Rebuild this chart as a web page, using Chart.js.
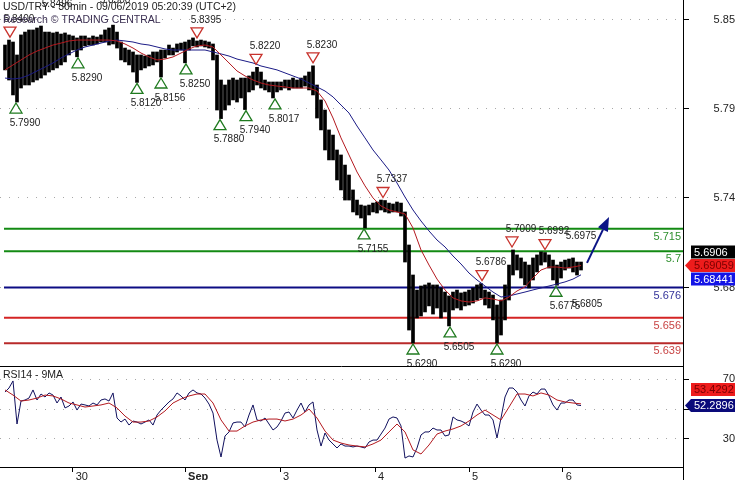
<!DOCTYPE html>
<html>
<head>
<meta charset="utf-8">
<script src="https://cdn.jsdelivr.net/npm/chart.js@4.4.0/dist/chart.umd.min.js"></script>
<style>
html, body { margin: 0; padding: 0; background: #fff; }
#wrap { position: relative; width: 735px; height: 480px; overflow: hidden; }
#priceChart { position: absolute; left: 0; top: 0; }
#rsiChart { position: absolute; left: 0; top: 366px; }
</style>
</head>
<body>
<div id="wrap">
  <canvas id="priceChart" width="735" height="366"></canvas>
  <canvas id="rsiChart" width="735" height="114"></canvas>
</div>
<script>
// 30min bars, one entry per 2 bars of the original
const barHighs = [
  5.8368, 5.8401, 5.8388, 5.8302, 5.8435, 5.8454, 5.8468, 5.8468, 5.8481, 5.8494,
  5.8454, 5.8454, 5.8448, 5.8454, 5.8441, 5.8448, 5.8435, 5.8428, 5.8415, 5.8428,
  5.8428, 5.8415, 5.8428, 5.8421, 5.8435, 5.8468, 5.8481, 5.8500, 5.8454, 5.8388,
  5.8348, 5.8335, 5.8322, 5.8302, 5.8302, 5.8295, 5.8302, 5.8322, 5.8322, 5.8335,
  5.8335, 5.8368, 5.8348, 5.8375, 5.8381, 5.8388, 5.8401, 5.8415, 5.8395, 5.8401,
  5.8395, 5.8388, 5.8375, 5.8302, 5.8136, 5.8103, 5.8136, 5.8149, 5.8136, 5.8149,
  5.8149, 5.8163, 5.8189, 5.8220, 5.8189, 5.8136, 5.8123, 5.8123, 5.8123, 5.8123,
  5.8136, 5.8136, 5.8149, 5.8136, 5.8149, 5.8163, 5.8189, 5.8230, 5.8103, 5.8004,
  5.7937, 5.7805, 5.7771, 5.7672, 5.7639, 5.7572, 5.7506, 5.7407, 5.7340, 5.7307,
  5.7301, 5.7307, 5.7320, 5.7327, 5.7340, 5.7337, 5.7320, 5.7314, 5.7327, 5.7320,
  5.7261, 5.7042, 5.6843, 5.6743, 5.6770, 5.6777, 5.6790, 5.6777, 5.6777, 5.6757,
  5.6730, 5.6704, 5.6730, 5.6743, 5.6724, 5.6730, 5.6743, 5.6757, 5.6777, 5.6786,
  5.6743, 5.6730, 5.6710, 5.6644, 5.6677, 5.6777, 5.6909, 5.7009, 5.6976, 5.6956,
  5.6929, 5.6909, 5.6956, 5.6976, 5.6996, 5.6992, 5.6976, 5.6942, 5.6909, 5.6929,
  5.6942, 5.6949, 5.6956, 5.6929, 5.6929
];
const barLows = [
  5.8203, 5.8136, 5.8037, 5.7990, 5.8083, 5.8103, 5.8103, 5.8123, 5.8136, 5.8149,
  5.8169, 5.8189, 5.8203, 5.8216, 5.8236, 5.8256, 5.8302, 5.8335, 5.8290, 5.8335,
  5.8362, 5.8368, 5.8368, 5.8375, 5.8388, 5.8388, 5.8368, 5.8375, 5.8348, 5.8269,
  5.8256, 5.8236, 5.8189, 5.8120, 5.8203, 5.8216, 5.8229, 5.8236, 5.8256, 5.8156,
  5.8282, 5.8302, 5.8302, 5.8322, 5.8335, 5.8250, 5.8335, 5.8362, 5.8355, 5.8362,
  5.8355, 5.8348, 5.8269, 5.7937, 5.7880, 5.7937, 5.7970, 5.8004, 5.7990, 5.8017,
  5.7940, 5.8057, 5.8070, 5.8103, 5.8083, 5.8070, 5.8057, 5.8017, 5.8057, 5.8070,
  5.8083, 5.8070, 5.8083, 5.8083, 5.8083, 5.8096, 5.8070, 5.8037, 5.7884, 5.7805,
  5.7672, 5.7606, 5.7606, 5.7473, 5.7407, 5.7340, 5.7340, 5.7261, 5.7241, 5.7221,
  5.7155, 5.7241, 5.7261, 5.7254, 5.7274, 5.7261, 5.7254, 5.7261, 5.7261, 5.7234,
  5.6929, 5.6478, 5.6392, 5.6558, 5.6571, 5.6598, 5.6638, 5.6584, 5.6624, 5.6558,
  5.6598, 5.6505, 5.6611, 5.6624, 5.6611, 5.6638, 5.6644, 5.6657, 5.6677, 5.6690,
  5.6644, 5.6624, 5.6545, 5.6392, 5.6445, 5.6545, 5.6677, 5.6843, 5.6876, 5.6823,
  5.6777, 5.6757, 5.6810, 5.6863, 5.6909, 5.6929, 5.6889, 5.6810, 5.6775, 5.6823,
  5.6876, 5.6889, 5.6863, 5.6843, 5.6876
];
const lastClose = 5.6906;

// moving averages, one point every maStep entries
const maStep = 2;
const redMA = [
  5.8203, 5.8236, 5.8269, 5.8302, 5.8328, 5.8348, 5.8368, 5.8381, 5.8395, 5.8401,
  5.8401, 5.8401, 5.8401, 5.8401, 5.8395, 5.8375, 5.8348, 5.8315, 5.8289, 5.8269,
  5.8275, 5.8289, 5.8315, 5.8342, 5.8362, 5.8368, 5.8355, 5.8302, 5.8249, 5.8196,
  5.8163, 5.8136, 5.8116, 5.8103, 5.8096, 5.8090, 5.8083, 5.8083, 5.8083, 5.8063,
  5.7997, 5.7884, 5.7752, 5.7639, 5.7526, 5.7434, 5.7354, 5.7301, 5.7274, 5.7261,
  5.7248, 5.7155, 5.7009, 5.6909, 5.6816, 5.6744, 5.6691, 5.6671, 5.6664, 5.6671,
  5.6691, 5.6684, 5.6671, 5.6697, 5.6737, 5.6764, 5.6823, 5.6876, 5.6896, 5.6896,
  5.6889, 5.6896, 5.69059
];
const blueMA = [
  5.8149, 5.8143, 5.8149, 5.8169, 5.8196, 5.8222, 5.8249, 5.8282, 5.8309, 5.8335,
  5.8355, 5.8368, 5.8381, 5.8395, 5.8401, 5.8395, 5.8388, 5.8375, 5.8368, 5.8355,
  5.8342, 5.8335, 5.8335, 5.8335, 5.8335, 5.8335, 5.8322, 5.8309, 5.8295, 5.8275,
  5.8262, 5.8249, 5.8229, 5.8216, 5.8203, 5.8183, 5.8163, 5.8143, 5.8116, 5.8090,
  5.8063, 5.8024, 5.7970, 5.7917, 5.7831, 5.7752, 5.7672, 5.7606, 5.7539, 5.7453,
  5.7360, 5.7274, 5.7201, 5.7135, 5.7075, 5.7029, 5.6969, 5.6916, 5.6856, 5.6810,
  5.6770, 5.6730, 5.6697, 5.6704, 5.6717, 5.6730, 5.6744, 5.6757, 5.6770, 5.6783,
  5.6797, 5.6816, 5.68441
];

const rsiValues = [
  61.3, 64, 68.7, 40, 55.3, 56, 57.3, 62.7, 56, 60,
  58, 60.7, 59.3, 54, 58, 50.7, 52, 54.7, 49.3, 53.3,
  52.7, 52, 54, 52.7, 56, 56.7, 55.3, 60.7, 44, 41.3,
  43.3, 39.3, 42, 41.3, 40, 41.3, 42.7, 39.3, 46, 49.3,
  52, 54.7, 56.7, 60.7, 58.7, 56, 60.7, 62.7, 60.7, 60,
  57.3, 53.3, 47.3, 29.3, 18, 32, 34.7, 40.7, 41.3, 41.3,
  38, 46, 52.7, 42.7, 42, 44, 40, 36, 38, 42,
  47.3, 48, 44, 49.3, 54, 48, 52.7, 54.7, 36, 25.3,
  34, 29.3, 26.7, 24, 26.7, 25.3, 25.3, 24.7, 25.3, 24.7,
  24, 28, 29.3, 29.3, 33.3, 37.3, 43.3, 44.7, 44, 38.7,
  17.3, 18.7, 18, 24, 32.7, 34.7, 34.7, 37.3, 36, 36,
  32, 32.7, 44.7, 42.7, 42, 40.7, 38.7, 48, 53.3, 49.3,
  46, 46, 42.7, 30.7, 44, 58, 64, 64, 61.3, 56,
  52, 58.7, 61.3, 60, 63.3, 63.3, 58.7, 52.7, 49.3, 54,
  54, 56, 56, 52.7, 52.2896
];
const rsiMA = [
  62.7, 59.3, 55.3, 56, 57.3, 59.3, 58.7, 56.7, 54, 52.7,
  51.3, 52, 52.7, 54, 50.7, 45.3, 41.3, 41.3, 42, 44.7,
  48.7, 54, 56.7, 58.7, 60, 60, 54, 42.7, 35.3, 35.3,
  38.7, 41.3, 42.7, 43.3, 43.3, 42, 43.3, 46, 50, 44,
  35.3, 29.3, 27.3, 26, 25.3, 24.7, 26.7, 29.3, 34.7, 40,
  34.7, 22.7, 20, 26, 33.3, 35.3, 36.7, 38.7, 42, 46,
  49.3, 46, 42.7, 51.3, 60, 60, 58.7, 60.7, 59.3, 56,
  54.7, 54, 53.4292
];

// support / resistance levels
const levelValues = [5.715, 5.7, 5.676, 5.656, 5.639];
const levelLabels = ['5.715', '5.7', '5.676', '5.656', '5.639'];
const levelColors = ['#138a13', '#138a13', '#0c0c84', '#d42424', '#b82a2a'];
const levelTextColors = ['#2e8f2e', '#2e8f2e', '#34349a', '#c84444', '#c84444'];

// pivot markers: [position, anchor price, label, kind]  H/L = with triangle, h/l = label only
const markers = [
  [1.25, 5.8400, '5.8400', 'H'], [10.75, 5.8496, '5.8496', 'h'], [25.25, 5.8525, '5.8500', 'h'],
  [48, 5.8395, '5.8395', 'H'], [62.75, 5.8220, '5.8220', 'H'], [77, 5.8230, '5.8230', 'H'],
  [94.5, 5.7337, '5.7337', 'H'], [119.25, 5.6786, '5.6786', 'H'], [126.75, 5.7009, '5.7009', 'H'],
  [135, 5.6992, '5.6992', 'H'], [141.75, 5.6962, '5.6975', 'h'],
  [2.75, 5.7990, '5.7990', 'L'], [18.25, 5.8290, '5.8290', 'L'], [33, 5.8120, '5.8120', 'L'],
  [39, 5.8156, '5.8156', 'L'], [45.25, 5.8250, '5.8250', 'L'], [53.75, 5.7880, '5.7880', 'L'],
  [60.25, 5.7940, '5.7940', 'L'], [67.5, 5.8017, '5.8017', 'L'], [89.75, 5.7155, '5.7155', 'L'],
  [102, 5.6392, '5.6290', 'L'], [111.25, 5.6505, '5.6505', 'L'], [123, 5.6392, '5.6290', 'L'],
  [137.75, 5.6775, '5.6775', 'L'], [143.25, 5.6790, '5.6805', 'l']
];

// projected move
const arrowX = [145.5, 151];
const arrowY = [5.6923, 5.7228];

const priceTicks = [5.6757, 5.7354, 5.7944, 5.8534];
const rsiTicks = [30, 50, 70];
const dayTickPos = [16.9, 45, 68.75, 92.5, 116, 139.4];
const dayTickLabels = ['30', 'Sep', '3', '4', '5', '6'];

const xMin = -1.25, xMax = 169.5, levelStart = -0.25;
const priceMin = 5.62395, priceMax = 5.86666;
const rsiMin = 11.333, rsiMax = 78.667;
const FONT = '"Liberation Sans", Arial, sans-serif';

function noPadding(s) {
    s.paddingTop = 0;
    s.paddingBottom = 0;
    s.paddingLeft = 0;
    s.paddingRight = 0;
}

function tag(ctx, left, yc, bg, fg, text, arrow) {
    ctx.fillStyle = bg;
    ctx.beginPath();
    if (arrow) {
        ctx.moveTo(left - 6, yc);
        ctx.lineTo(left, yc - 6.5);
    } else {
        ctx.moveTo(left, yc - 6.5);
    }
    ctx.lineTo(left + 46, yc - 6.5);
    ctx.lineTo(left + 46, yc + 6.5);
    ctx.lineTo(left, yc + 6.5);
    ctx.closePath();
    ctx.fill();
    ctx.fillStyle = fg;
    ctx.textAlign = 'left';
    ctx.fillText(text, left + 3, yc + 0.5);
}

const priceOverlay = {
    id: 'priceOverlay',
    afterDatasetsDraw(chart) {
        const {ctx, chartArea: a, scales: {x, y}} = chart;
        ctx.save();
        ctx.font = '11px ' + FONT;
        ctx.textBaseline = 'middle';

        ctx.textAlign = 'right';
        levelValues.forEach((v, i) => {
            ctx.fillStyle = levelTextColors[i];
            ctx.fillText(levelLabels[i], a.right - 2, y.getPixelForValue(v) + 8);
        });

        ctx.font = '10px ' + FONT;
        markers.forEach(([pos, price, text, kind]) => {
            const px = x.getPixelForValue(pos);
            const py = y.getPixelForValue(price);
            const high = kind === 'H' || kind === 'h';
            if (kind === 'H' || kind === 'L') {
                const ty = high ? py - 8 : py + 6;
                ctx.beginPath();
                if (high) {
                    ctx.moveTo(px, ty + 5); ctx.lineTo(px + 6, ty - 5); ctx.lineTo(px - 6, ty - 5);
                } else {
                    ctx.moveTo(px, ty - 5); ctx.lineTo(px + 6, ty + 5); ctx.lineTo(px - 6, ty + 5);
                }
                ctx.closePath();
                ctx.lineWidth = 1.3;
                ctx.strokeStyle = high ? '#c8322c' : '#1f7a1f';
                ctx.stroke();
            }
            ctx.textAlign = 'center';
            ctx.fillStyle = '#222';
            ctx.fillText(text, px + 9, high ? py - 21 : py + 21);
        });

        // arrow
        const x0 = x.getPixelForValue(arrowX[0]), y0 = y.getPixelForValue(arrowY[0]);
        const x1 = x.getPixelForValue(arrowX[1]), y1 = y.getPixelForValue(arrowY[1]);
        const ang = Math.atan2(y1 - y0, x1 - x0);
        const hl = 14, hw = 5.5;
        const bx = x1 - hl * Math.cos(ang), by = y1 - hl * Math.sin(ang);
        ctx.strokeStyle = ctx.fillStyle = '#0b1486';
        ctx.lineWidth = 2;
        ctx.beginPath(); ctx.moveTo(x0, y0); ctx.lineTo(bx, by); ctx.stroke();
        ctx.beginPath();
        ctx.moveTo(x1, y1);
        ctx.lineTo(bx + hw * Math.sin(ang), by - hw * Math.cos(ang));
        ctx.lineTo(bx - hw * Math.sin(ang), by + hw * Math.cos(ang));
        ctx.closePath(); ctx.fill();

        // title
        ctx.font = '10.5px ' + FONT;
        ctx.textAlign = 'left';
        ctx.fillStyle = '#222';
        ctx.fillText('USD/TRY - 30min - 09/06/2019 05:20:39 (UTC+2)', 3, 7);
        ctx.fillStyle = '#3b2f52';
        ctx.fillText('Research \u00a9 TRADING CENTRAL', 3, 20);
        ctx.restore();
    },
    afterDraw(chart) {
        const {ctx, chartArea: a, scales: {y}} = chart;
        ctx.save();
        ctx.font = '11px ' + FONT;
        ctx.textBaseline = 'middle';
        const yr = y.getPixelForValue(redMA[redMA.length - 1]);
        tag(ctx, a.right + 8, yr - 13.5, '#000', '#fff', String(lastClose), false);
        tag(ctx, a.right + 8, yr + 13.5, '#1414e6', '#fff', String(blueMA[blueMA.length - 1]), false);
        tag(ctx, a.right + 8, yr, '#ee1c1c', '#7a0000', String(redMA[redMA.length - 1]), true);
        ctx.restore();
    }
};

const rsiOverlay = {
    id: 'rsiOverlay',
    afterDraw(chart) {
        const {ctx, chartArea: a, scales: {y}} = chart;
        ctx.save();
        ctx.strokeStyle = '#000';
        ctx.lineWidth = 1;
        ctx.beginPath();
        ctx.moveTo(0, a.top + 0.5); ctx.lineTo(a.right, a.top + 0.5);
        ctx.moveTo(a.right + 0.5, a.bottom); ctx.lineTo(a.right + 0.5, chart.height);
        ctx.stroke();
        ctx.font = '10.5px ' + FONT;
        ctx.textBaseline = 'middle';
        ctx.textAlign = 'left';
        ctx.fillStyle = '#222';
        ctx.fillText('RSI14 - 9MA', 3, a.top + 9);
        ctx.font = '11px ' + FONT;
        const yb = y.getPixelForValue(rsiValues[rsiValues.length - 1]);
        tag(ctx, a.right + 8, yb - 16, '#ee1c1c', '#7a0000', String(rsiMA[rsiMA.length - 1]), false);
        tag(ctx, a.right + 8, yb, '#0a0a7a', '#fff', String(rsiValues[rsiValues.length - 1]), true);
        ctx.restore();
    }
};

const baseOptions = {
    responsive: false,
    animation: false,
    devicePixelRatio: 1,
    events: [],
    layout: { padding: 0 },
    plugins: { legend: { display: false }, tooltip: { enabled: false } }
};

new Chart(document.getElementById('priceChart'), {
    type: 'line',
    data: {
        datasets: [
            ...levelValues.map((v, i) => ({
                type: 'line',
                data: [{x: levelStart, y: v}, {x: xMax, y: v}],
                borderColor: levelColors[i],
                borderWidth: 2,
                pointRadius: 0,
                order: 10
            })),
            {
                type: 'bar',
                data: barHighs.map((h, i) => ({x: i, y: [barLows[i], h]})),
                backgroundColor: '#000',
                barThickness: 3,
                order: 5
            },
            {
                type: 'line',
                data: blueMA.map((v, k) => ({x: k * maStep, y: v})),
                borderColor: '#1b1b86',
                borderWidth: 1,
                pointRadius: 0,
                order: 2
            },
            {
                type: 'line',
                data: redMA.map((v, k) => ({x: k * maStep, y: v})),
                borderColor: '#b3191f',
                borderWidth: 1,
                pointRadius: 0,
                order: 1
            }
        ]
    },
    options: {
        ...baseOptions,
        scales: {
            x: { type: 'linear', display: false, offset: false, min: xMin, max: xMax, grid: { offset: false } },
            y: {
                position: 'right',
                min: priceMin,
                max: priceMax,
                beginAtZero: false,
                afterBuildTicks: s => { s.ticks = priceTicks.map(v => ({value: v})); },
                afterFit: s => { s.width = 52; noPadding(s); },
                ticks: {
                    callback: v => v.toFixed(2),
                    color: '#222',
                    font: { family: FONT, size: 11 },
                    crossAlign: 'far',
                    padding: 22
                },
                grid: { color: '#a8a8a8', tickColor: '#000', tickLength: 6, tickBorderDash: [] },
                border: { color: '#000', dash: [1, 8] }
            }
        }
    },
    plugins: [priceOverlay]
});

new Chart(document.getElementById('rsiChart'), {
    type: 'line',
    data: {
        datasets: [
            {
                data: rsiValues.map((v, i) => ({x: i, y: v})),
                borderColor: '#10105e',
                borderWidth: 1,
                pointRadius: 0,
                order: 2
            },
            {
                data: rsiMA.map((v, k) => ({x: k * maStep, y: v})),
                borderColor: '#b3191f',
                borderWidth: 1,
                pointRadius: 0,
                order: 1
            }
        ]
    },
    options: {
        ...baseOptions,
        scales: {
            x: {
                type: 'linear',
                min: xMin,
                max: xMax,
                offset: false,
                afterBuildTicks: s => { s.ticks = dayTickPos.map(v => ({value: v})); },
                afterFit: s => { s.height = 13; noPadding(s); },
                ticks: {
                    autoSkip: false,
                    maxRotation: 0,
                    align: 'start',
                    padding: -2,
                    color: '#222',
                    callback: (v, i) => ' ' + dayTickLabels[i],
                    font: c => ({ family: FONT, size: 11, weight: dayTickLabels[c.index] === 'Sep' ? 'bold' : 'normal' })
                },
                grid: { drawOnChartArea: false, tickLength: 5, tickColor: '#000' },
                border: { color: '#000' }
            },
            y: {
                position: 'right',
                min: rsiMin,
                max: rsiMax,
                afterBuildTicks: s => { s.ticks = rsiTicks.map(v => ({value: v})); },
                afterFit: s => { s.width = 52; noPadding(s); },
                ticks: {
                    color: '#222',
                    font: { family: FONT, size: 11 },
                    crossAlign: 'far',
                    padding: 31
                },
                grid: { color: '#a8a8a8', tickColor: '#000', tickLength: 6, tickBorderDash: [] },
                border: { color: '#000', dash: [1, 8] }
            }
        }
    },
    plugins: [rsiOverlay]
});
</script>
</body>
</html>
